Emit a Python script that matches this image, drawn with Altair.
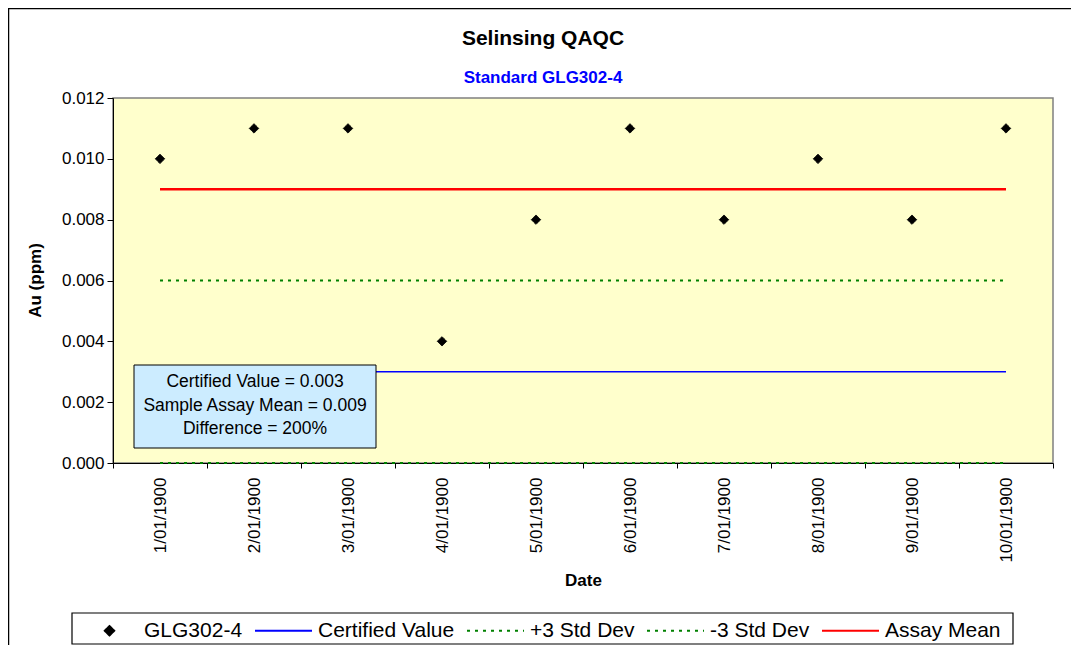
import altair as alt
import pandas as pd

dates = ["1/01/1900", "2/01/1900", "3/01/1900", "4/01/1900", "5/01/1900",
         "6/01/1900", "7/01/1900", "8/01/1900", "9/01/1900", "10/01/1900"]
assay = [0.010, 0.011, 0.011, 0.004, 0.008, 0.011, 0.008, 0.010, 0.008, 0.011]
certified_value = 0.003
plus3sd = 0.006
minus3sd = 0.000
assay_mean = 0.009

series_names = ["GLG302-4", "Certified Value", "+3 Std Dev", "-3 Std Dev", "Assay Mean"]
series_colors = ["black", "#0000FF", "#008000", "#008000", "#FF0000"]
legend_fills = ["black", "transparent", "transparent", "transparent", "transparent"]
DIAMOND = "M0,-0.165L0.165,0L0,0.165L-0.165,0Z"
legend_shapes = [DIAMOND, "stroke", "stroke", "stroke", "stroke"]
legend_dashes = [[1, 0], [1, 0], [3, 5], [3, 5], [1, 0]]
y_ticks = [0.0, 0.002, 0.004, 0.006, 0.008, 0.010, 0.012]
box_text_lines = "Certified Value = 0.003\nSample Assay Mean = 0.009\nDifference = 200%"

FONT = "Liberation Sans"

pts = pd.DataFrame({"date": dates, "value": assay, "series": "GLG302-4"})
rows = []
for name, v in [("Certified Value", certified_value), ("+3 Std Dev", plus3sd),
                ("-3 Std Dev", minus3sd), ("Assay Mean", assay_mean)]:
    for d in dates:
        rows.append({"date": d, "value": v, "series": name})
lines = pd.DataFrame(rows)

x_enc = alt.X("date:N", sort=dates,
              scale=alt.Scale(type="band", paddingInner=0, paddingOuter=0),
              axis=alt.Axis(title="Date", labelAngle=270, labelFont=FONT, labelFontSize=17,
                            labelColor="black", labelPadding=9, tickBand="extent",
                            tickSize=5, tickColor="black", domainColor="black",
                            titleFont=FONT, titleFontSize=17, titleFontWeight="bold",
                            titleColor="black", titleX=470, titleY=117,
                            titleBaseline="middle", titleAlign="center"))
y_enc = alt.Y("value:Q", scale=alt.Scale(domain=[0, 0.012], nice=False, zero=True),
              axis=alt.Axis(title="Au (ppm)", values=y_ticks, format=".3f",
                            labelFont=FONT, labelFontSize=17, labelColor="black",
                            labelPadding=3, tickSize=6, tickColor="black",
                            domainColor="black", grid=False,
                            titleFont=FONT, titleFontSize=17, titleFontWeight="bold",
                            titleColor="black", titleAngle=270, titleX=-78, titleY=182,
                            titleBaseline="middle", titleAlign="center"))

leg = alt.Legend(
    title=None, orient="none", legendX=-33, legendY=503, direction="horizontal",
    columns=5, symbolStrokeWidth=2, symbolOpacity=1, symbolSize=3249,
    labelFont=FONT, labelFontSize=21, labelColor="black", labelOffset=5,
    columnPadding=8, padding=0, labelLimit=300)

base_lines = alt.Chart(lines)
cert = base_lines.transform_filter("datum.series === 'Certified Value'").mark_line(
    strokeWidth=1.5, color="#0000FF").encode(x=x_enc, y=y_enc)
sd = base_lines.transform_filter(
    "datum.series === '+3 Std Dev' || datum.series === '-3 Std Dev'").mark_line(
    strokeWidth=2, strokeDash=[3, 5], color="#008000").encode(x=x_enc, y=y_enc,
                                                              detail="series:N")
mean = base_lines.transform_filter("datum.series === 'Assay Mean'").mark_line(
    strokeWidth=2.5, color="#FF0000").encode(x=x_enc, y=y_enc)

points = alt.Chart(pts).mark_point(filled=True, opacity=1, strokeWidth=1, size=3249).encode(
    x=x_enc, y=y_enc,
    fill=alt.Fill("series:N", scale=alt.Scale(domain=series_names, range=legend_fills),
                  legend=leg),
    stroke=alt.Stroke("series:N", scale=alt.Scale(domain=series_names, range=series_colors),
                      legend=leg),
    shape=alt.Shape("series:N", scale=alt.Scale(domain=series_names, range=legend_shapes),
                    legend=leg),
    strokeDash=alt.StrokeDash("series:N",
                              scale=alt.Scale(domain=series_names, range=legend_dashes),
                              legend=leg),
)

# annotation box
box_df = pd.DataFrame({"t": [box_text_lines]})
box = alt.Chart(box_df).mark_rect(fill="#CCECFF", stroke="black", strokeWidth=1).encode(
    x=alt.value(21), x2=alt.value(263), y=alt.value(267), y2=alt.value(350))
box_text = alt.Chart(box_df).mark_text(
    font=FONT, fontSize=17.5, color="black", align="center", baseline="middle",
    lineBreak="\n", lineHeight=23.5).encode(
    text="t:N", x=alt.value(142), y=alt.value(284))

# legend frame
legend_box = alt.Chart(box_df).mark_rect(fill="white", stroke="black", strokeWidth=1.2).encode(
    x=alt.value(-41), x2=alt.value(900), y=alt.value(515), y2=alt.value(546))

# titles
title_df = pd.DataFrame({"t": ["Selinsing QAQC"]})
title = alt.Chart(title_df).mark_text(font=FONT, fontSize=21, fontWeight="bold",
                                      color="black", align="center",
                                      baseline="alphabetic").encode(
    text="t:N", x=alt.value(430), y=alt.value(-53))
sub_df = pd.DataFrame({"t": ["Standard GLG302-4"]})
subtitle = alt.Chart(sub_df).mark_text(font=FONT, fontSize=17, fontWeight="bold",
                                       color="#0000FF", align="center",
                                       baseline="alphabetic").encode(
    text="t:N", x=alt.value(430), y=alt.value(-15))

frame = alt.Chart(title_df).mark_rect(fill="transparent", stroke="black", strokeWidth=1.5).encode(
    x=alt.value(-104.5), x2=alt.value(1000), y=alt.value(-89.5), y2=alt.value(700))

chart = alt.layer(frame, legend_box, cert, sd, mean, points, box, box_text, title,
                  subtitle).properties(
    width=940, height=365,
    autosize=alt.AutoSizeParams(type="none"),
    padding={"left": 105, "top": 90, "right": 18, "bottom": 182},
    background="white",
).configure_view(fill="#FFFFCC", stroke="#808080", strokeWidth=1.5)

chart.save("out.html", embed_options={"renderer": "svg", "actions": False})
